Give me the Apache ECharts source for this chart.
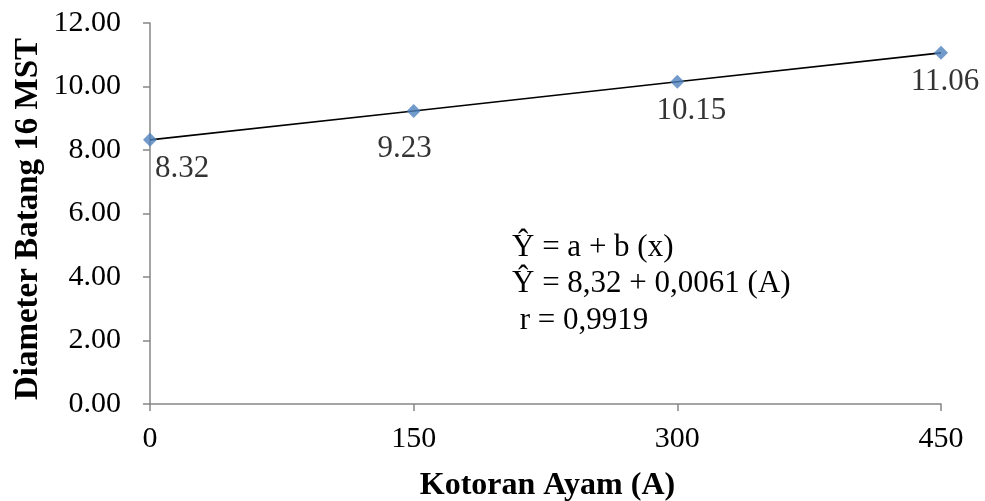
<!DOCTYPE html>
<html><head><meta charset="utf-8">
<script src="https://cdn.jsdelivr.net/npm/echarts@6/dist/echarts.min.js"></script>
<style>html,body{margin:0;padding:0;background:#fff}#c{width:985px;height:501px}</style>
</head><body><div id="c"></div>
<script>
const xValues = [0, 150, 300, 450];
const yValues = [8.32, 9.23, 10.15, 11.06];
const yTicks = ['0.00','2.00','4.00','6.00','8.00','10.00','12.00'];
const xTitle = 'Kotoran Ayam (A)';
const yTitle = 'Diameter Batang 16 MST';
const eqLines = ['\u0176 = a + b (x)', '\u0176 = 8,32 + 0,0061 (A)', ' r = 0,9919'];

// label nudges (layout only)
const labelNudge = [[32, 0], [-9, 8], [14, 0], [4, 0]];

const pts = xValues.map((x, i) => [x, yValues[i]]);
const font = '"Liberation Serif","Times New Roman",serif';
const chart = echarts.init(document.getElementById('c'), null, {renderer: 'canvas'});
chart.setOption({
  animation: false,
  grid: {left: 150, right: 44, top: 23, bottom: 97, containLabel: false},
  xAxis: {
    type: 'value', min: 0, max: 450, interval: 150,
    axisLine: {show: true, lineStyle: {color: '#868686', width: 1.5}},
    axisTick: {show: true, length: 7, lineStyle: {color: '#868686', width: 1.5}},
    splitLine: {show: false},
    axisLabel: {color: '#000', fontFamily: font, fontSize: 30, margin: 20}
  },
  yAxis: {
    type: 'value', min: 0, max: 12, interval: 2,
    axisLine: {show: true, lineStyle: {color: '#868686', width: 1.5}},
    axisTick: {show: true, length: 7, lineStyle: {color: '#868686', width: 1.5}},
    splitLine: {show: false},
    axisLabel: {color: '#000', fontFamily: font, fontSize: 30, margin: 29,
      formatter: (v) => yTicks[Math.round(v / 2)]}
  },
  series: [
    {type: 'line', data: pts, symbol: 'none', z: 2,
     lineStyle: {color: '#000', width: 1.6}},
    {type: 'scatter', data: pts, symbol: 'diamond', symbolSize: 14, z: 3,
     itemStyle: {color: '#4F81BD'},
     label: {show: true, position: 'bottom', distance: 7, color: '#000',
       fontFamily: font, fontSize: 31,
       formatter: (p) => p.value[1].toFixed(2)},
     labelLayout: (p) => ({dx: labelNudge[p.dataIndex][0], dy: labelNudge[p.dataIndex][1]})
    }
  ],
  graphic: [
    {type: 'text', x: 547.5, y: 486, z: 10,
     style: {text: xTitle, font: 'bold 32px ' + font, fill: '#000', align: 'center', verticalAlign: 'middle'}},
    {type: 'text', x: 28.5, y: 219, rotation: Math.PI / 2, z: 10,
     style: {text: yTitle, font: 'bold 33px ' + font, fill: '#000', align: 'center', verticalAlign: 'middle'}}
  ].concat(eqLines.map((t, i) => ({
    type: 'text', left: 512, top: 232 + i * 36.5,
    style: {text: t, font: '31px ' + font, fill: '#000'}
  })))
});
</script></body></html>
